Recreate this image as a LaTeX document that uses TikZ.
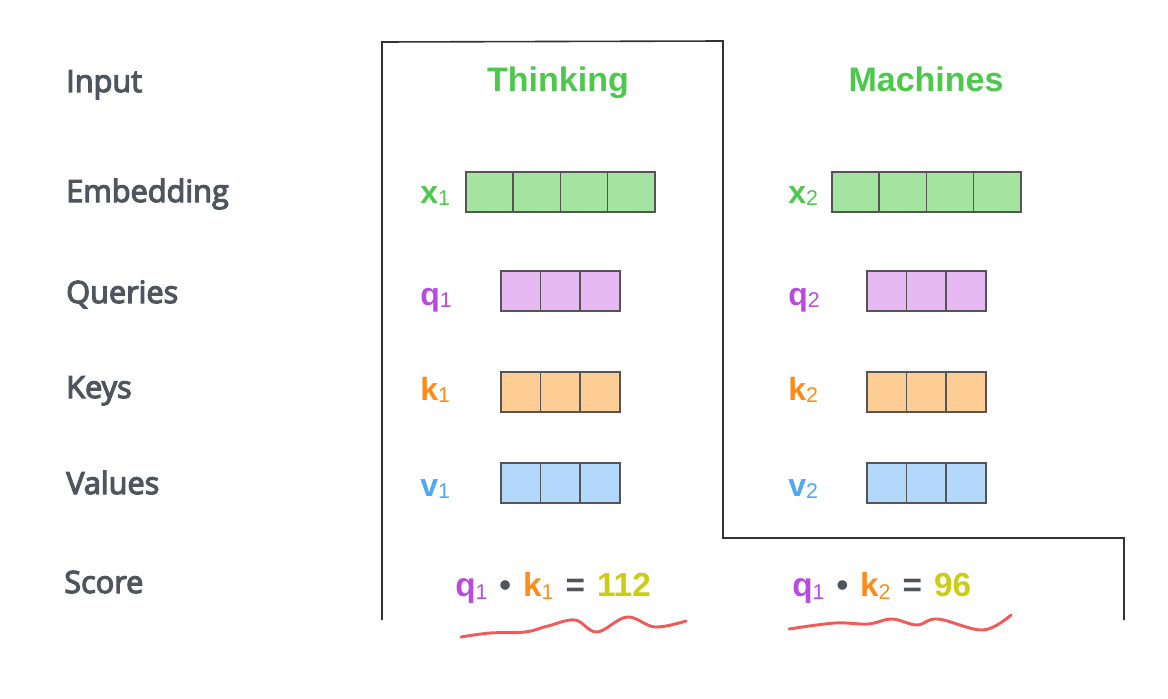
\documentclass[tikz,border=0pt]{standalone}
\usepackage{fontspec}
\setmainfont{Open Sans}
\newfontfamily\hv{Liberation Sans}
\newcommand\semib[1]{\special{pdf:literal direct 2 Tr 0.9 w}#1\special{pdf:literal direct 0 Tr}}
\definecolor{labgray}{HTML}{4F555D}
\definecolor{tgreen}{HTML}{4CC84C}
\definecolor{cgreen}{HTML}{A4E4A0}
\definecolor{cpink}{HTML}{E6B9F3}
\definecolor{corange}{HTML}{FDCD95}
\definecolor{cblue}{HTML}{B4D8FB}
\definecolor{cstroke}{HTML}{555555}
\definecolor{qpurple}{HTML}{B94AE0}
\definecolor{korange}{HTML}{FF8C1A}
\definecolor{vblue}{HTML}{4DA8F5}
\definecolor{yolive}{HTML}{CCCC14}
\definecolor{wred}{HTML}{F25A5A}
\definecolor{outline}{HTML}{333333}
\newcommand\vsub[1]{\raisebox{-2pt}{\mdseries\fontsize{16}{16}\selectfont #1}}
\newcommand\ssub[1]{\raisebox{-2.5pt}{\mdseries\fontsize{16}{16}\selectfont #1}}
\newcommand\gap{\hspace{9pt}}
\tikzset{
  rowlabel/.style={anchor=base west, text=labgray, font=\fontsize{23}{23}\selectfont, inner sep=0pt},
  word/.style={anchor=base, text=tgreen, font=\hv\bfseries\fontsize{25.5}{25.5}\selectfont, inner sep=0pt},
  veclabel/.style={anchor=base west, font=\hv\bfseries\fontsize{24}{24}\selectfont, inner sep=0pt},
  cell/.style={draw=cstroke, line width=1.2pt, minimum height=40*0.75pt, inner sep=0pt, anchor=north west},
  wide/.style={cell, minimum width=47.25*0.75pt},
  narrow/.style={cell, minimum width=39.67*0.75pt},
  score/.style={anchor=base west, font=\hv\bfseries\fontsize{25}{25}\selectfont, inner sep=0pt},
  wave/.style={draw=wred, line width=2.2pt, line cap=round, line join=round},
  frame/.style={draw=outline, line width=1.2pt}
}
\begin{document}
\begin{tikzpicture}[x=0.75pt,y=-0.75pt]
\useasboundingbox (0,0) rectangle (1168,699);
% outline
\coordinate (o1) at (382,620);
\coordinate (o2) at (382,42);
\coordinate (o3) at (723,41);
\coordinate (o4) at (723,538);
\coordinate (o5) at (1124,538);
\coordinate (o6) at (1124,620);
\draw[frame] (o1) -- (o2) -- (o3) -- (o4) -- (o5) -- (o6);
% row labels
\node[rowlabel] (lin) at (66,92) {\semib{Input}};
\node[rowlabel] (lem) at (66,202) {\semib{Embedding}};
\node[rowlabel] (lqu) at (66,303) {\semib{Queries}};
\node[rowlabel] (lke) at (66,398) {\semib{Keys}};
\node[rowlabel] (lva) at (66,494) {\semib{Values}};
\node[rowlabel] (lsc) at (64,593) {\semib{Score}};
% words
\node[word] (w1) at (558,92) {Thinking};
\node[word] (w2) at (926,92) {Machines};
% vector labels
\node[veclabel, text=tgreen] (x1) at (420,203) {x\vsub{1}};
\node[veclabel, text=qpurple] (q1) at (420,305) {q\vsub{1}};
\node[veclabel, text=korange] (k1) at (420,400) {k\vsub{1}};
\node[veclabel, text=vblue] (v1) at (420,496) {v\vsub{1}};
\node[veclabel, text=tgreen] (x2) at (788,203) {x\vsub{2}};
\node[veclabel, text=qpurple] (q2) at (788,305) {q\vsub{2}};
\node[veclabel, text=korange] (k2) at (788,400) {k\vsub{2}};
\node[veclabel, text=vblue] (v2) at (788,496) {v\vsub{2}};
% cells
\foreach \i in {0,...,3} {
  \node[wide, fill=cgreen] (xa\i) at ({465+47.25*\i},171) {};
  \node[wide, fill=cgreen] (xb\i) at ({831+47.25*\i},171) {};
}
\foreach \i in {0,...,2} {
  \node[narrow, fill=cpink] (qa\i) at ({500+39.67*\i},270) {};
  \node[narrow, fill=corange] (ka\i) at ({500+39.67*\i},371) {};
  \node[narrow, fill=cblue] (va\i) at ({500+39.67*\i},462) {};
  \node[narrow, fill=cpink] (qb\i) at ({866+39.67*\i},270) {};
  \node[narrow, fill=corange] (kb\i) at ({866+39.67*\i},371) {};
  \node[narrow, fill=cblue] (vb\i) at ({866+39.67*\i},462) {};
}
% scores
\node[score] (s1) at (455,596) {\textcolor{qpurple}{q\ssub{1}}\gap\textcolor{labgray}{•}\gap\textcolor{korange}{k\ssub{1}}\gap\textcolor{labgray}{=}\gap\textcolor{yolive}{112}};
\node[score] (s2) at (792,596) {\textcolor{qpurple}{q\ssub{1}}\gap\textcolor{labgray}{•}\gap\textcolor{korange}{k\ssub{2}}\gap\textcolor{labgray}{=}\gap\textcolor{yolive}{96}};
% waves
\draw[wave] plot[smooth, tension=0.6] coordinates {(461,637) (490,633) (525,632) (548,626) (575,620) (597,632) (627,617) (655,627) (686,621)};
\draw[wave] plot[smooth, tension=0.6] coordinates {(789,629) (835,623) (868,624) (892,619) (917,625) (938,619) (983,630) (1011,615)};
\end{tikzpicture}
\end{document}
